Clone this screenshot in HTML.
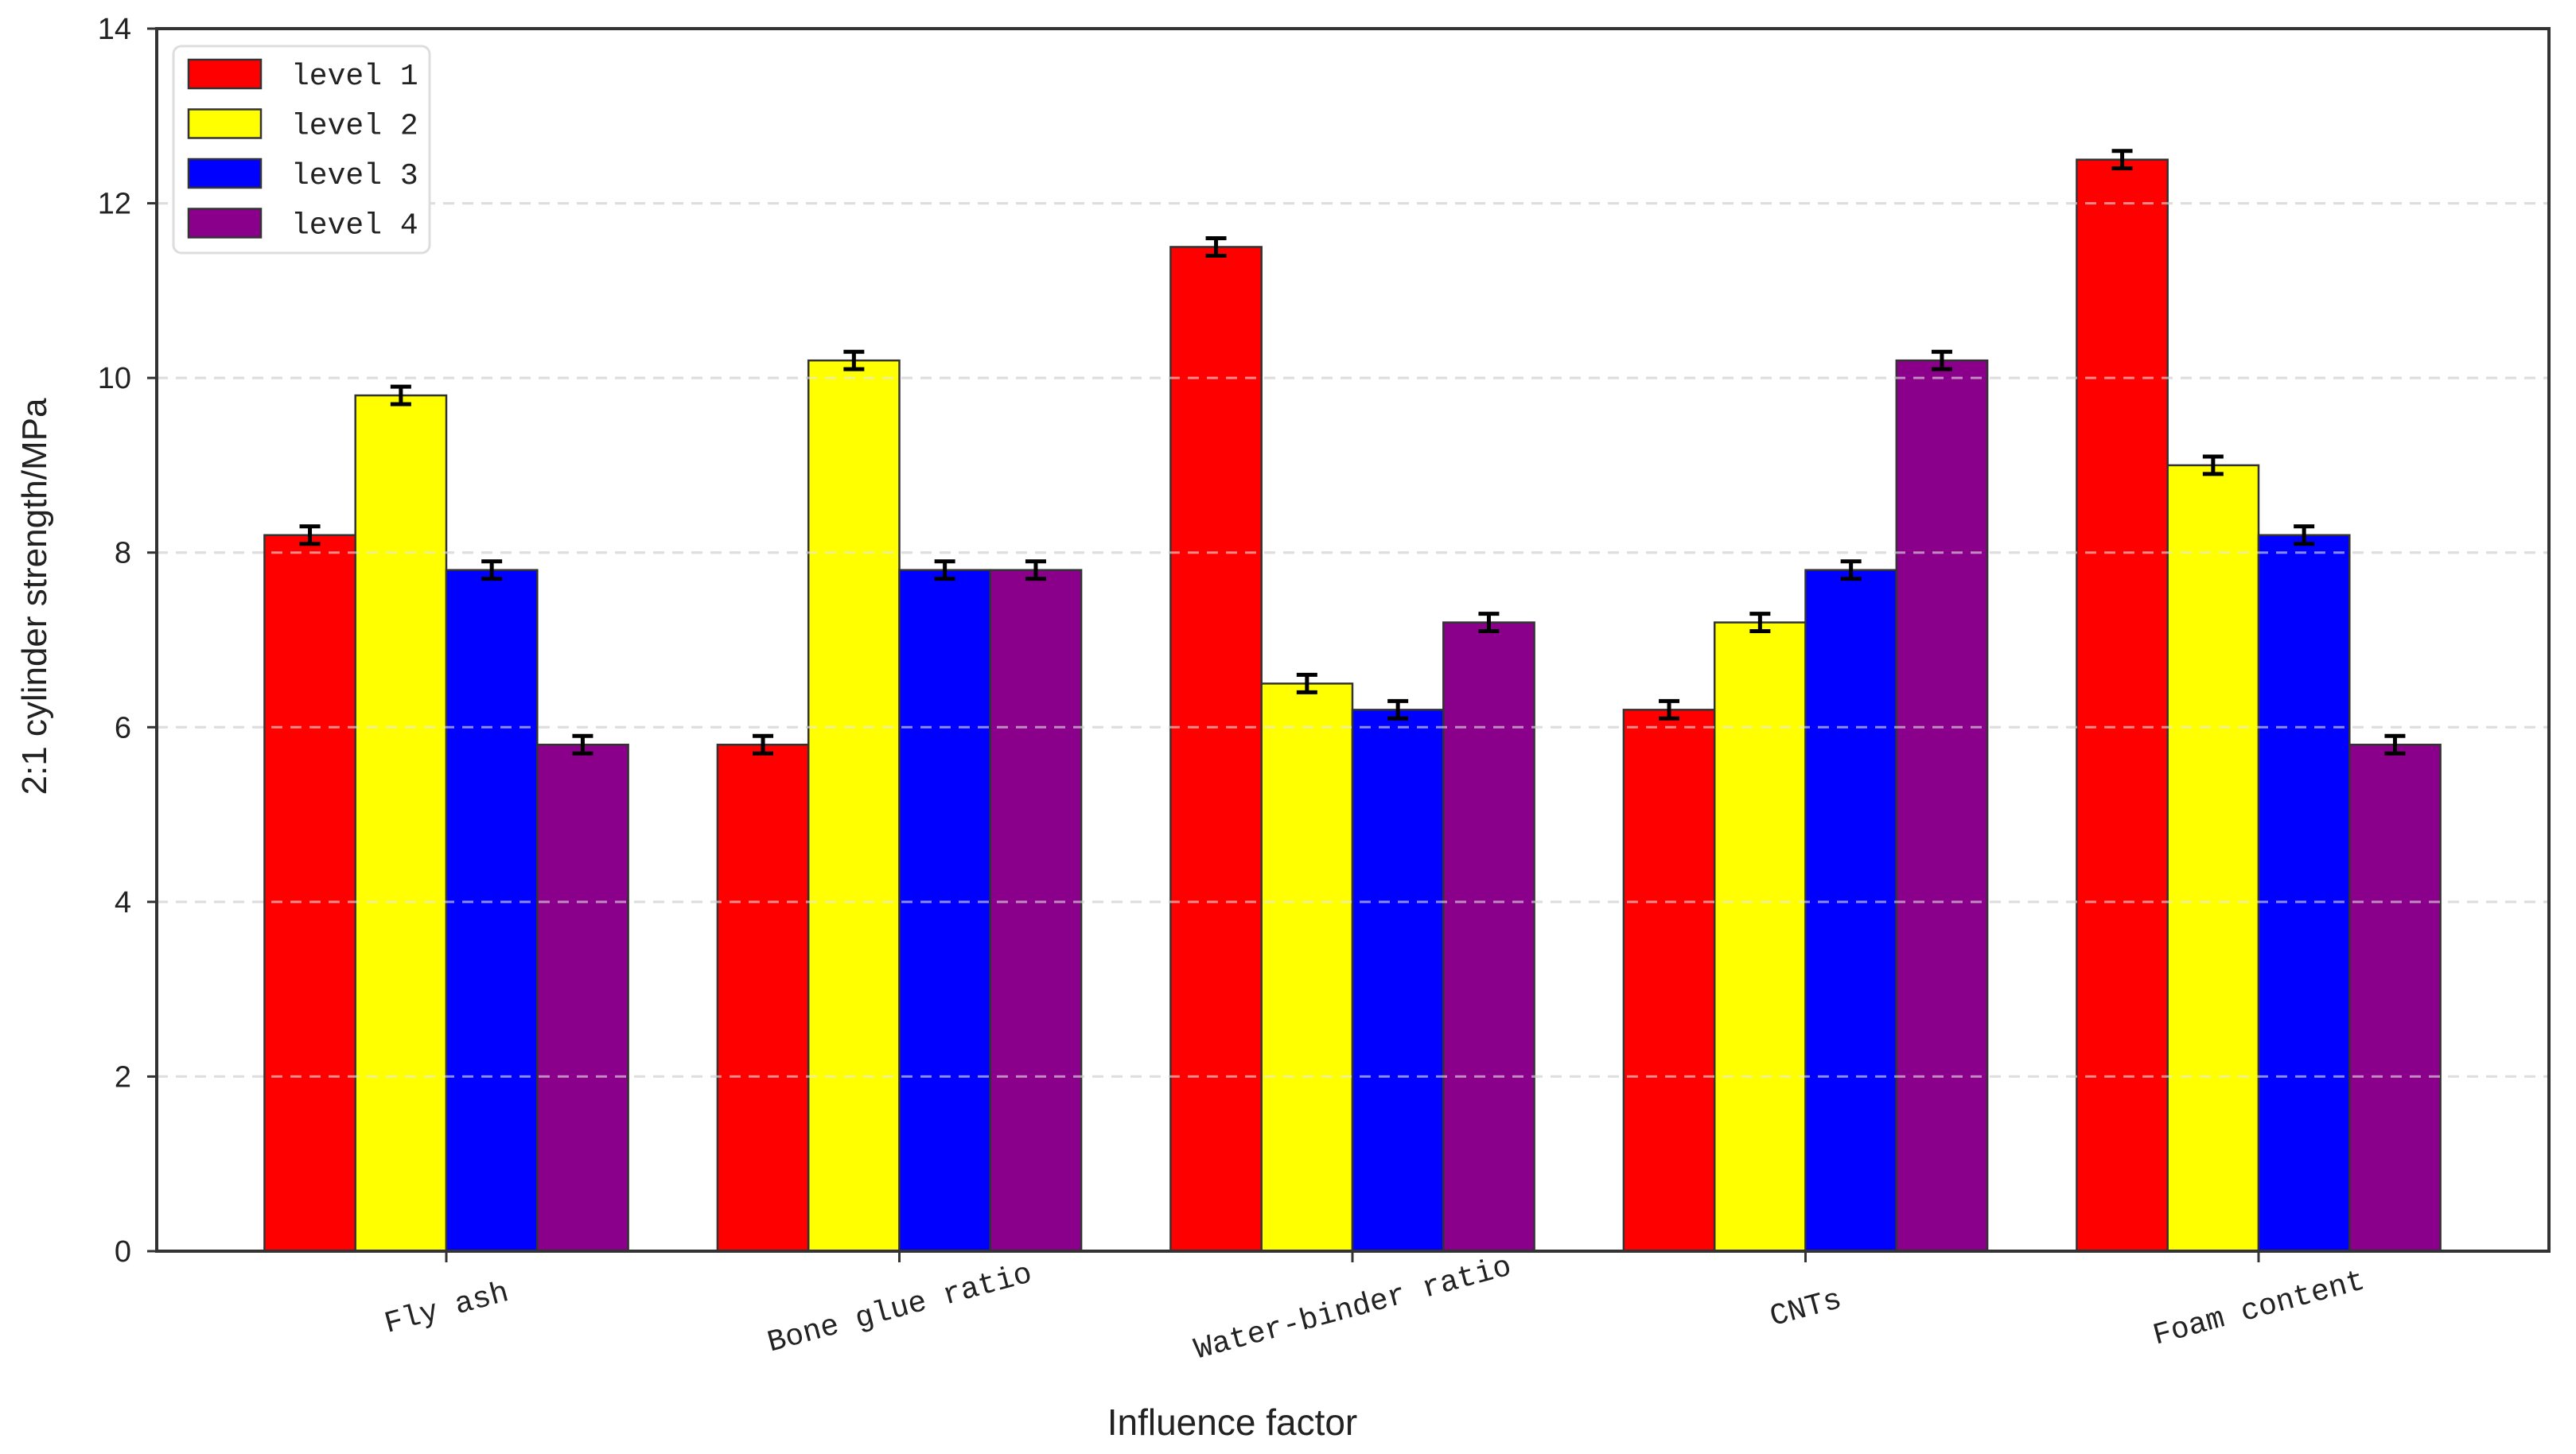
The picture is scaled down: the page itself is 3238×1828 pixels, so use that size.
<!DOCTYPE html>
<html><head><meta charset="utf-8"><style>
html,body{margin:0;padding:0;background:#fff;}
svg{display:block;}
text{font-family:"Liberation Sans",sans-serif;fill:#222;}
.mono{font-family:"Liberation Mono","DejaVu Sans Mono",monospace;}
</style></head><body>
<svg id="chart" width="3238" height="1828" viewBox="0 0 3238 1828" xmlns="http://www.w3.org/2000/svg">
<g id="grid"></g>
<g id="bars"></g>
<g id="gridTop"></g>
<g id="errs"></g>
<rect x="197" y="36" width="3007" height="1537" fill="none" stroke="#333" stroke-width="4"/>
<g id="yticks"></g>
<g id="xticks"></g>
<text x="58" y="750" font-size="44" text-anchor="middle" transform="rotate(-90 58 750)">2:1 cylinder strength/MPa</text>
<text x="1549" y="1804" font-size="46" text-anchor="middle">Influence factor</text>
<g id="legend">
<rect x="218" y="58" width="322" height="260" rx="10" fill="#fff" stroke="#ddd" stroke-width="3"/>
</g>
</svg>
<script>
const categories = ["Fly ash","Bone glue ratio","Water-binder ratio","CNTs","Foam content"];
const level1 = [8.2, 5.8, 11.5, 6.2, 12.5];
const level2 = [9.8, 10.2, 6.5, 7.2, 9.0];
const level3 = [7.8, 7.8, 6.2, 7.8, 8.2];
const level4 = [5.8, 7.8, 7.2, 10.2, 5.8];
const errors1 = [0.1, 0.1, 0.1, 0.1, 0.1];
const errors2 = [0.1, 0.1, 0.1, 0.1, 0.1];
const errors3 = [0.1, 0.1, 0.1, 0.1, 0.1];
const errors4 = [0.1, 0.1, 0.1, 0.1, 0.1];
const seriesNames = ["level 1","level 2","level 3","level 4"];
const yTicks = [0,2,4,6,8,10,12,14];

const NS="http://www.w3.org/2000/svg";
const colors=["#ff0000","#ffff00","#0000ff","#8b008b"];
const series=[level1,level2,level3,level4];
const errs=[errors1,errors2,errors3,errors4];
const X0=197,X1=3204,Y0=1573,Y1=36,YMAX=14;
const firstC=561,step=569.5,bw=114.3;
function y(v){return Y0-(v/YMAX)*(Y0-Y1);}
function xc(i){return firstC+i*step;}
function mk(tag,attrs,parent){const e=document.createElementNS(NS,tag);for(const k in attrs)e.setAttribute(k,attrs[k]);parent.appendChild(e);return e;}
const gGrid=document.getElementById('grid'),gTop=document.getElementById('gridTop'),gBars=document.getElementById('bars'),gErr=document.getElementById('errs'),gY=document.getElementById('yticks'),gX=document.getElementById('xticks'),gL=document.getElementById('legend');
yTicks.forEach(t=>{
  if(t>0&&t<YMAX){
    const l=mk('line',{x1:X0,x2:X1,y1:y(t),y2:y(t),stroke:'#d0d0d0','stroke-width':3,'stroke-dasharray':'14 10'},gGrid);
    
    
    const l2=mk('line',{x1:X0,x2:X1,y1:y(t),y2:y(t),stroke:'#e8e8e8','stroke-width':3,'stroke-dasharray':'14 10','opacity':0.6},gTop);
    
    
  }
  const tk=mk('line',{x1:X0-12,x2:X0,y1:y(t),y2:y(t),stroke:'#333','stroke-width':3},gY);
  
  
  const tx=mk('text',{x:X0-32,y:y(t)+13,'font-size':38,'text-anchor':'end'},gY);
  
  
  tx.textContent=t;
});
categories.forEach((c,i)=>{
  series.forEach((s,j)=>{
    const left=xc(i)-2*bw+j*bw;
    const r=mk('rect',{x:left,y:y(s[i]),width:bw,height:Y0-y(s[i]),fill:colors[j],stroke:'#333','stroke-width':2.5},gBars);
    
    
    const cx=left+bw/2,e=errs[j][i];
    const g=mk('g',{stroke:'#000','stroke-width':5},gErr);
    
    
    mk('line',{x1:cx,x2:cx,y1:y(s[i]+e),y2:y(s[i]-e)},g);
    mk('line',{x1:cx-13,x2:cx+13,y1:y(s[i]+e),y2:y(s[i]+e)},g);
    mk('line',{x1:cx-13,x2:cx+13,y1:y(s[i]-e),y2:y(s[i]-e)},g);
  });
  const tk=mk('line',{x1:xc(i),x2:xc(i),y1:Y0,y2:Y0+14,stroke:'#333','stroke-width':3},gX);
  
  
  const tx=mk('text',{x:xc(i),y:Y0+82,'font-size':38,'text-anchor':'middle','class':'mono',transform:'rotate(-15 '+xc(i)+' '+(Y0+70)+')'},gX);
  
  
  tx.textContent=c;
});
seriesNames.forEach((n,j)=>{
  const yy=93+j*62.5;
  const p=mk('rect',{x:237,y:yy-18,width:91,height:36,fill:colors[j],stroke:'#333','stroke-width':2.5},gL);
  
  
  const t=mk('text',{x:366,y:yy+13,'font-size':38,'class':'mono'},gL);
  
  
  t.textContent=n;
});
</script>
</body></html>
